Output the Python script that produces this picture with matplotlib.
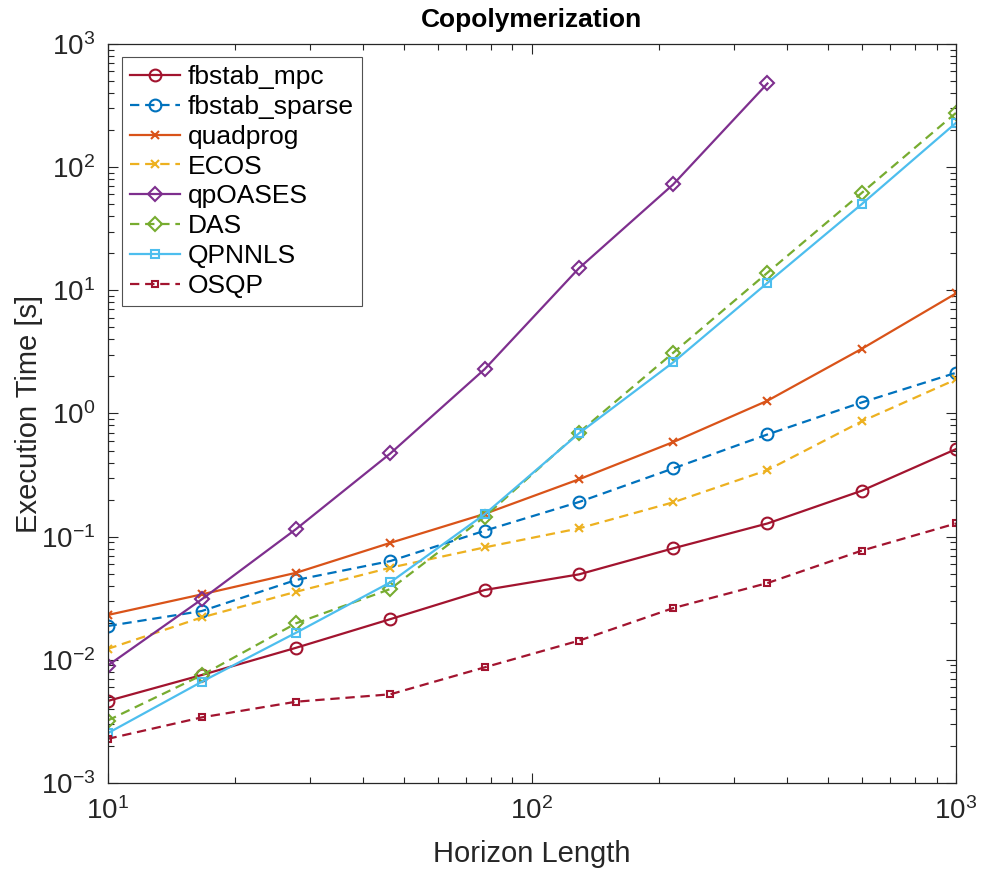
import matplotlib
matplotlib.use("Agg")
import matplotlib.pyplot as plt
from matplotlib.ticker import LogLocator, NullFormatter

plt.rcParams['font.family'] = ['Liberation Sans', 'DejaVu Sans']
plt.rcParams['mathtext.fontset'] = 'custom'
plt.rcParams['mathtext.rm'] = 'Liberation Sans'
plt.rcParams['mathtext.it'] = 'Liberation Sans:italic'
plt.rcParams['mathtext.bf'] = 'Liberation Sans:bold'

# Horizon lengths (x axis)
horizon = [10, 16.68, 27.83, 46.42, 77.43, 129.15, 215.44, 359.38, 599.48, 1000]

# Execution times [s]
fbstab_mpc = [0.00463, 0.00753, 0.01253, 0.0214, 0.0369, 0.0494, 0.0804, 0.128, 0.236, 0.514]
fbstab_sparse = [0.0188, 0.0249, 0.0445, 0.0634, 0.1117, 0.191, 0.358, 0.676, 1.23, 2.14]
quadprog = [0.0231, 0.034, 0.0509, 0.0891, 0.153, 0.292, 0.586, 1.27, 3.35, 9.44]
ecos = [0.01225, 0.0221, 0.0357, 0.056, 0.0818, 0.1167, 0.19, 0.347, 0.863, 1.89]
qpoases = [0.00895, 0.031, 0.1153, 0.474, 2.29, 15.1, 72.4, 478]
das = [0.00321, 0.0075, 0.0198, 0.0376, 0.145, 0.70, 3.11, 13.9, 61.8, 276]
qpnnls = [0.00253, 0.00664, 0.0166, 0.0426, 0.152, 0.689, 2.60, 11.5, 50.1, 229]
osqp = [0.00228, 0.00341, 0.00457, 0.00525, 0.00869, 0.0143, 0.0263, 0.042, 0.077, 0.128]

labels = ['fbstab_mpc', 'fbstab_sparse', 'quadprog', 'ECOS', 'qpOASES', 'DAS', 'QPNNLS', 'OSQP']

ink = '#262626'
dash = (4.2, 2.6)

fig = plt.figure(figsize=(9.82, 8.74), dpi=100)
ax = fig.add_axes([107.5 / 982, 1 - 783 / 874, 848.5 / 982, 739 / 874])

lw = 1.6
series = [
    (fbstab_mpc, '#A2142F', '-', 'o', 8.5, horizon),
    (fbstab_sparse, '#0072BD', '--', 'o', 8.5, horizon),
    (quadprog, '#D95319', '-', 'x', 5.5, horizon),
    (ecos, '#EDB120', '--', 'x', 5.5, horizon),
    (qpoases, '#7E2F8E', '-', 'D', 7.0, horizon[:len(qpoases)]),
    (das, '#77AC30', '--', 'D', 7.0, horizon),
    (qpnnls, '#4DBEEE', '-', 's', 5.5, horizon),
    (osqp, '#A2142F', '--', 's', 5.0, horizon),
]

for (vals, col, ls, mk, ms, xs), lab in zip(series, labels):
    line, = ax.plot(xs, vals, color=col, linestyle=ls, linewidth=lw,
                    marker=mk, markersize=ms, markerfacecolor='none',
                    markeredgecolor=col, markeredgewidth=1.5, label=lab)
    if ls == '--':
        line.set_dashes(dash)

ax.set_xscale('log')
ax.set_yscale('log')
ax.set_xlim(10, 1000)
ax.set_ylim(1e-3, 1e3)

ax.xaxis.set_major_locator(LogLocator(base=10, numticks=10))
ax.yaxis.set_major_locator(LogLocator(base=10, numticks=10))
ax.xaxis.set_minor_locator(LogLocator(base=10, subs=range(2, 10), numticks=20))
ax.yaxis.set_minor_locator(LogLocator(base=10, subs=range(2, 10), numticks=20))
ax.xaxis.set_minor_formatter(NullFormatter())
ax.yaxis.set_minor_formatter(NullFormatter())

ax.tick_params(which='both', direction='in', top=True, right=True,
               colors=ink, width=0.8)
ax.tick_params(which='major', length=7, labelsize=20)
ax.tick_params(axis='x', which='major', pad=10)
ax.tick_params(axis='y', which='major', pad=9)
ax.tick_params(which='minor', length=4)
for s in ax.spines.values():
    s.set_color(ink)
    s.set_linewidth(0.9)

ax.set_xlabel('Horizon Length', fontsize=21, color=ink, labelpad=11)
ax.set_ylabel('Execution Time [s]', fontsize=21, color=ink, labelpad=-2)
ax.set_title('Copolymerization', fontsize=19, fontweight='bold', color='black', pad=12)

leg = ax.legend(loc='upper left', bbox_to_anchor=(0.017, 0.982), borderaxespad=0,
                fontsize=19, frameon=True, fancybox=False, edgecolor=ink,
                handlelength=1.9, handletextpad=0.3, labelspacing=0.22,
                borderpad=0.3, numpoints=1)
leg.get_frame().set_linewidth(0.8)
for t in leg.get_texts():
    t.set_color('black')

fig.savefig('out.png', dpi=100, facecolor='white')
